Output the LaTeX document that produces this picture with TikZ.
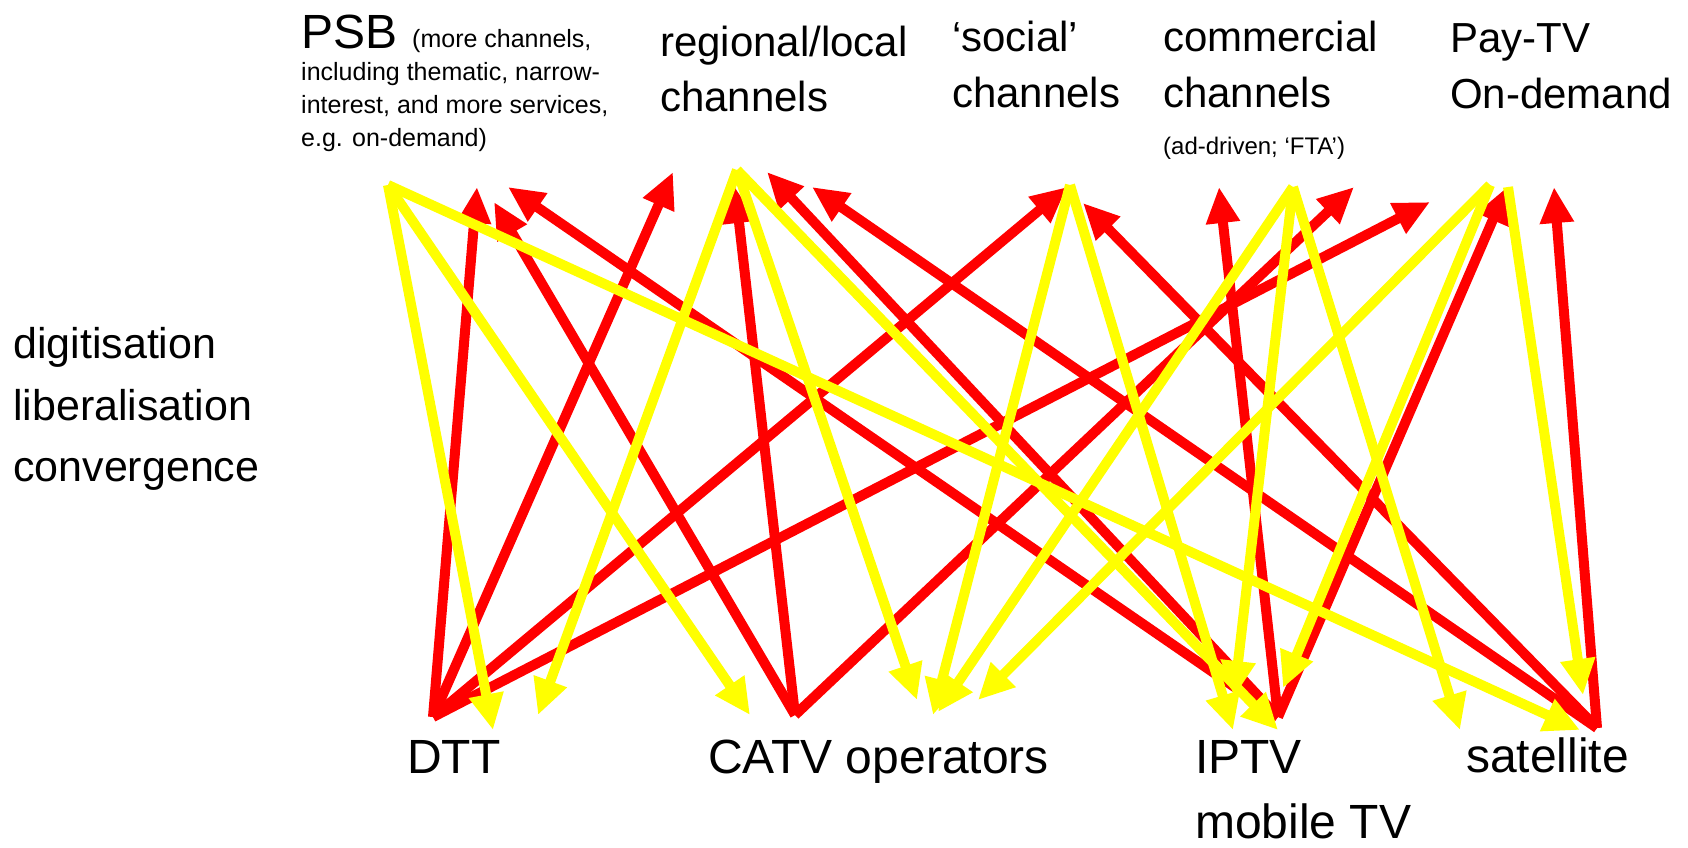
\documentclass[tikz,border=0pt]{standalone}
\usepackage{fontspec}
\setmainfont{Liberation Sans}
\usetikzlibrary{arrows.meta}
\definecolor{linkred}{RGB}{255,0,0}
\definecolor{linkyellow}{RGB}{255,255,0}
\tikzset{
  redlink/.style={draw=linkred, line width=10pt, -{Triangle[length=36pt,width=32pt]}},
  yellowlink/.style={draw=linkyellow, line width=10pt, -{Triangle[length=36pt,width=33pt]}},
  biglabel/.style={anchor=base west, inner sep=0pt, font=\fontsize{48}{56}\selectfont},
  sidelabel/.style={anchor=base west, inner sep=0pt, font=\fontsize{43}{52}\selectfont},
  toplabel/.style={anchor=base west, inner sep=0pt, font=\fontsize{42}{50}\selectfont},
  smalllabel/.style={anchor=base west, inner sep=0pt, font=\fontsize{25}{30}\selectfont},
  tinylabel/.style={anchor=base west, inner sep=0pt, font=\fontsize{24}{28}\selectfont}
}
\begin{document}
\begin{tikzpicture}[x=1pt,y=-1pt]
\useasboundingbox (0,0) rectangle (1688,847);

% ---- labels: content providers (top) ----
\node[biglabel] (psb) at (301,48) {PSB};
\node[smalllabel] (psbnoteA) at (412,47) {(more channels,};
\node[smalllabel] (psbnoteB) at (301,80) {including thematic, narrow-};
\node[smalllabel] (psbnoteC) at (301,113) {interest, and more services,};
\node[smalllabel] (psbnoteD) at (301,146) {e.g. on-demand)};
\node[toplabel] (regA) at (660,56) {regional/local};
\node[toplabel] (regB) at (660,111) {channels};
\node[toplabel] (socA) at (952,51) {‘social’};
\node[toplabel] (socB) at (952,107) {channels};
\node[toplabel] (comA) at (1163,51) {commercial};
\node[toplabel] (comB) at (1163,107) {channels};
\node[tinylabel] (comC) at (1163,154) {(ad-driven; ‘FTA’)};
\node[toplabel] (payA) at (1450,52) {Pay-TV};
\node[toplabel] (payB) at (1450,108) {On-demand};

% ---- labels: drivers (left) ----
\node[sidelabel] (drvA) at (13,358) {digitisation};
\node[sidelabel] (drvB) at (13,420) {liberalisation};
\node[sidelabel] (drvC) at (13,481) {convergence};

% ---- labels: platforms (bottom) ----
\node[biglabel] (dtt) at (407,773) {DTT};
\node[biglabel] (catv) at (708,773) {CATV operators};
\node[biglabel] (iptvA) at (1195,773) {IPTV};
\node[biglabel] (iptvB) at (1195,838) {mobile TV};
\node[biglabel] (sat) at (1466,772) {satellite};

% ---- anchor points of the links ----
% platforms
\coordinate (pDTT)  at (433,717);
\coordinate (pCATV) at (795,715);
\coordinate (pIPTV) at (1278,717);
\coordinate (pSAT)  at (1597,728);
% content providers
\coordinate (cPSB)  at (388,185);
\coordinate (cREG)  at (737,170);
\coordinate (cSOC)  at (1070,185);
\coordinate (cCOM)  at (1293,187);
\coordinate (cPAYa) at (1490,185);
\coordinate (cPAYb) at (1508,187);
% red arrow tips near the providers
\coordinate (tPSBa) at (477,187);
\coordinate (tPSBb) at (494,202);
\coordinate (tPSBc) at (508,187);
\coordinate (tREGa) at (673,172);
\coordinate (tREGb) at (735,187);
\coordinate (tREGc) at (767,172);
\coordinate (tREGd) at (812,187);
\coordinate (tSOCa) at (1067,187);
\coordinate (tSOCb) at (1083,203);
\coordinate (tCOMa) at (1219,187);
\coordinate (tCOMb) at (1354,187);
\coordinate (tCOMc) at (1430,202);
\coordinate (tPAYa) at (1507,187);
\coordinate (tPAYb) at (1554,187);
% yellow arrow tips near the platforms
\coordinate (bDTTa)  at (493,730);
\coordinate (bDTTb)  at (538,715);
\coordinate (bCATVa) at (750,715);
\coordinate (bCATVb) at (917,700);
\coordinate (bCATVc) at (933,715);
\coordinate (bCATVd) at (938,712);
\coordinate (bCATVe) at (978,700);
\coordinate (bIPTVa) at (1278,730);
\coordinate (bIPTVb) at (1233,730);
\coordinate (bIPTVc) at (1234,697);
\coordinate (bIPTVd) at (1283,688);
\coordinate (bSATa)  at (1580,730);
\coordinate (bSATb)  at (1460,730);
\coordinate (bSATc)  at (1583,695);

% ---- red links: platforms reaching providers ----
\draw[redlink] (pDTT) -- (tPSBa);
\draw[redlink] (pDTT) -- (tREGa);
\draw[redlink] (pDTT) -- (tSOCa);
\draw[redlink] (pDTT) -- (tCOMc);
\draw[redlink] (pCATV) -- (tPSBb);
\draw[redlink] (pCATV) -- (tREGb);
\draw[redlink] (pCATV) -- (tCOMb);
\draw[redlink] (pIPTV) -- (tPSBc);
\draw[redlink] (pIPTV) -- (tREGc);
\draw[redlink] (pIPTV) -- (tCOMa);
\draw[redlink] (pIPTV) -- (tPAYa);
\draw[redlink] (pSAT) -- (tREGd);
\draw[redlink] (pSAT) -- (tSOCb);
\draw[redlink] (pSAT) -- (tPAYb);

% ---- yellow links: providers reaching platforms ----
\draw[yellowlink] (cPSB) -- (bDTTa);
\draw[yellowlink] (cPSB) -- (bCATVa);
\draw[yellowlink] (cPSB) -- (bSATa);
\draw[yellowlink] (cREG) -- (bDTTb);
\draw[yellowlink] (cREG) -- (bCATVb);
\draw[yellowlink] (cREG) -- (bIPTVa);
\draw[yellowlink] (cSOC) -- (bCATVc);
\draw[yellowlink] (cSOC) -- (bIPTVb);
\draw[yellowlink] (cCOM) -- (bCATVd);
\draw[yellowlink] (cCOM) -- (bIPTVc);
\draw[yellowlink] (cCOM) -- (bSATb);
\draw[yellowlink] (cPAYa) -- (bCATVe);
\draw[yellowlink] (cPAYa) -- (bIPTVd);
\draw[yellowlink] (cPAYb) -- (bSATc);
\end{tikzpicture}
\end{document}
